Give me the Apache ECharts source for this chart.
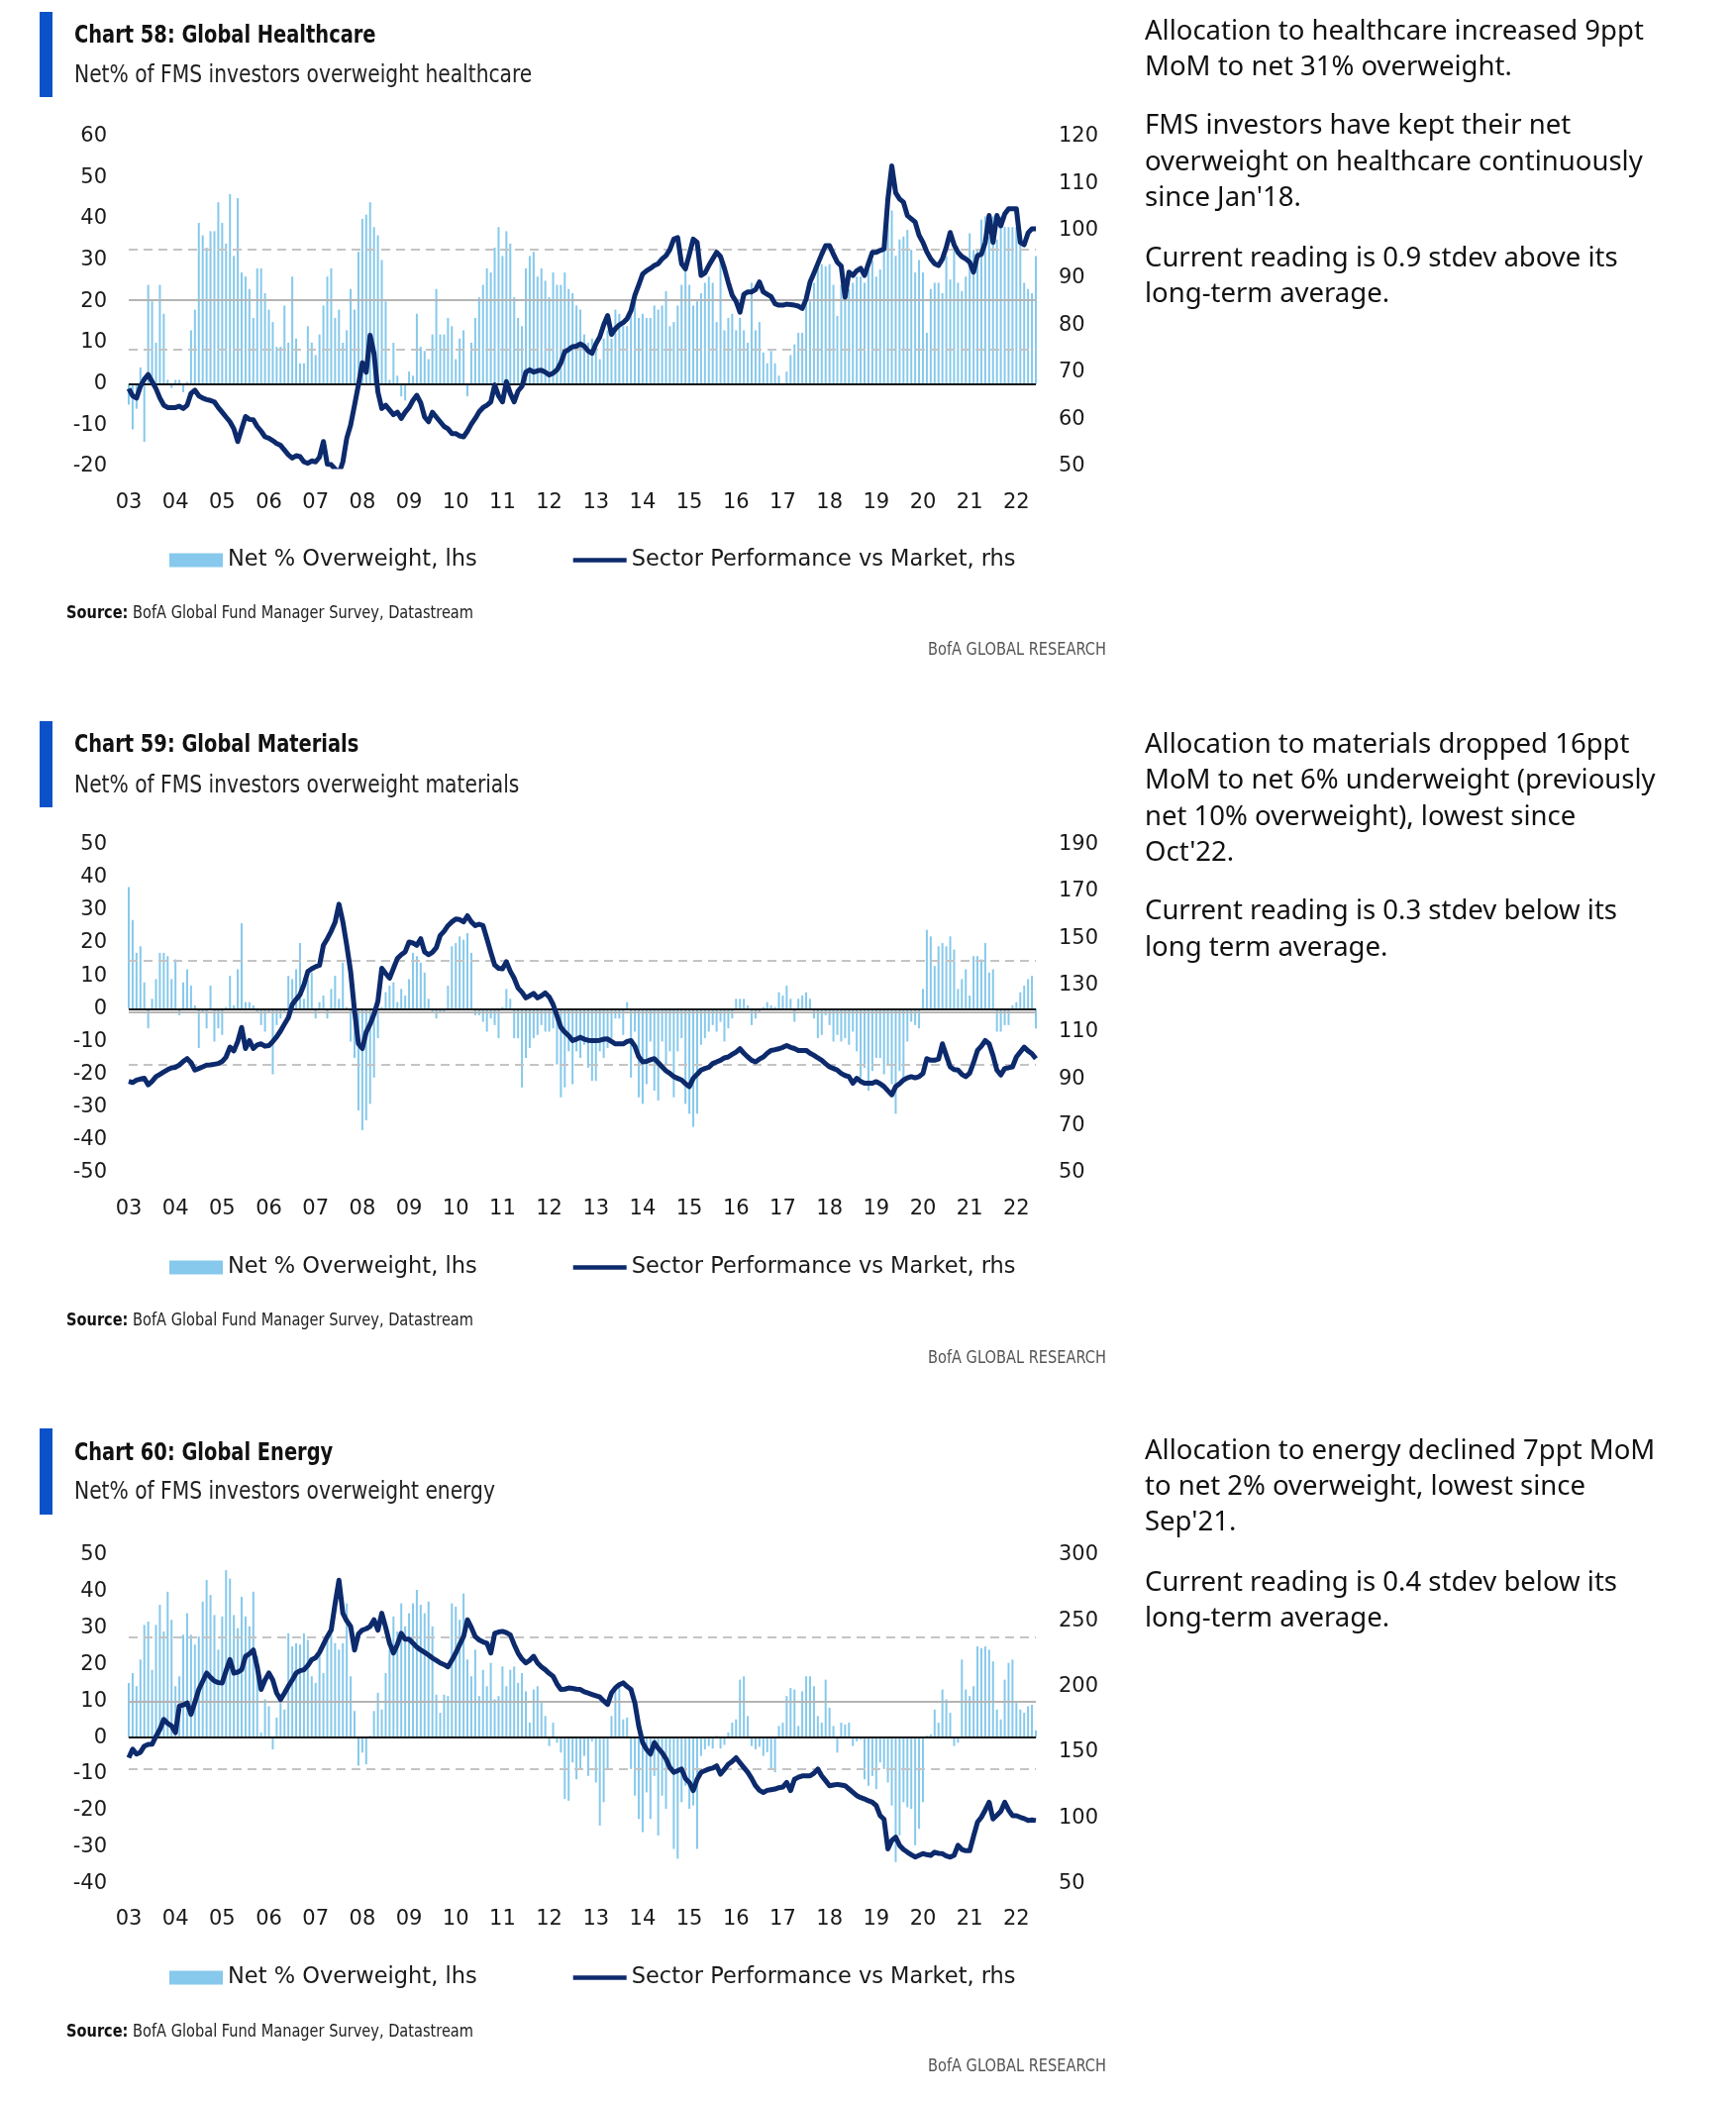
<!DOCTYPE html>
<html>
<head>
<meta charset="utf-8">
<script src="https://cdn.jsdelivr.net/npm/echarts/dist/echarts.min.js"></script>
<style>
  html, body { margin: 0; padding: 0; background: #fff; }
  #page { position: relative; width: 1753px; height: 2122px; background: #fff; overflow: hidden; }
  #chart { position: absolute; left: 0; top: 0; width: 1753px; height: 2122px; }
  .bar { position: absolute; left: 40px; width: 13px; background: #0b52c9; }
  .narrow { font-family: 'Liberation Sans Narrow', 'DejaVu Sans Condensed', 'Liberation Sans', sans-serif; transform: scaleX(0.9); transform-origin: 0 50%; }
  .title { position: absolute; left: 75px; font-size: 24px; line-height: 30px; font-weight: bold; color: #111; white-space: nowrap; }
  .sub { position: absolute; left: 75px; font-size: 25px; line-height: 30px; color: #222; white-space: nowrap; }
  .src { position: absolute; left: 67px; font-size: 18px; line-height: 22px; color: #222; white-space: nowrap; }
  .src b { color: #111; }
  .bofa { position: absolute; right: 636px; font-size: 18px; line-height: 22px; color: #555; white-space: nowrap; transform-origin: 100% 50%; }
  .prose { position: absolute; left: 1156px; font-family: 'Noto Sans', 'Open Sans', sans-serif; font-size: 27.5px; line-height: 36.4px; color: #111; white-space: nowrap; }
</style>
</head>
<body>
<div id="page">
  <div id="chart"></div>

  <div class="bar" style="top:12px;height:86px"></div>
  <div class="title narrow" style="top:20px">Chart 58: Global Healthcare</div>
  <div class="sub narrow" style="top:59.5px">Net% of FMS investors overweight healthcare</div>
  <div class="src narrow" style="top:607px"><b>Source:</b> BofA Global Fund Manager Survey, Datastream</div>
  <div class="bofa narrow" style="top:644px">BofA GLOBAL RESEARCH</div>
  <div class="prose" style="top:11.5px">Allocation to healthcare increased 9ppt<br>MoM to net 31% overweight.</div>
  <div class="prose" style="top:107.2px">FMS investors have kept their net<br>overweight on healthcare continuously<br>since Jan'18.</div>
  <div class="prose" style="top:240.7px">Current reading is 0.9 stdev above its<br>long-term average.</div>

  <div class="bar" style="top:728px;height:87px"></div>
  <div class="title narrow" style="top:736px">Chart 59: Global Materials</div>
  <div class="sub narrow" style="top:776.5px">Net% of FMS investors overweight materials</div>
  <div class="src narrow" style="top:1321px"><b>Source:</b> BofA Global Fund Manager Survey, Datastream</div>
  <div class="bofa narrow" style="top:1359px">BofA GLOBAL RESEARCH</div>
  <div class="prose" style="top:731.8px">Allocation to materials dropped 16ppt<br>MoM to net 6% underweight (previously<br>net 10% overweight), lowest since<br>Oct'22.</div>
  <div class="prose" style="top:900.4px">Current reading is 0.3 stdev below its<br>long term average.</div>

  <div class="bar" style="top:1442px;height:87px"></div>
  <div class="title narrow" style="top:1451px">Chart 60: Global Energy</div>
  <div class="sub narrow" style="top:1489.6px">Net% of FMS investors overweight energy</div>
  <div class="src narrow" style="top:2038.6px"><b>Source:</b> BofA Global Fund Manager Survey, Datastream</div>
  <div class="bofa narrow" style="top:2073.7px">BofA GLOBAL RESEARCH</div>
  <div class="prose" style="top:1444.5px">Allocation to energy declined 7ppt MoM<br>to net 2% overweight, lowest since<br>Sep'21.</div>
  <div class="prose" style="top:1578px">Current reading is 0.4 stdev below its<br>long-term average.</div>
</div>

<script>
// ---------------- DATA ----------------
const startYear = 2003;
const monthCount = 234; // Jan 2003 .. Jun 2022
const yearTickLabels = ['03','04','05','06','07','08','09','10','11','12','13','14','15','16','17','18','19','20','21','22'];
const seriesNames = ['Net % Overweight, lhs', 'Sector Performance vs Market, rhs'];

// Chart 58: Healthcare
const healthcareBars = [
  -5, -11, -6, 4, -14, 24, 20, 10, 24, 17, 1, -1,          // 2003
  1, 1, -2, 0.5, 13, 18, 39, 36, 33, 37, 37, 44,           // 2004
  39, 34, 46, 31, 45, 27, 26, 23, 16, 28, 28, 22,          // 2005
  18, 15, 9, 9, 19, 10, 26, 11, 5, 5, 14, 10,              // 2006
  7, 12, 19, 26, 28, 16, 18, 10, 13, 23, 18, 32,           // 2007
  40, 41, 44, 38, 36, 30, 20, 1, 10, 2, -3, -4,            // 2008
  3, 2, 17, 9, 8, 6, 12, 23, 12, 12, 16, 14,               // 2009
  6, 11, 13, -3, 10, 16, 21, 24, 28, 27, 33, 38,           // 2010
  31, 37, 34, 21, 16, 14, 28, 31, 32, 26, 28, 25,          // 2011
  21, 27, 24, 24, 27, 23, 22, 19, 18, 12, 10, 11,          // 2012
  10, 6, 11, 13, 11, 18, 17, 14, 14, 19, 20, 16,           // 2013
  17, 16, 16, 19, 18, 19, 22.5, 14, 15, 19, 24, 29,        // 2014
  24, 19, 20, 22, 24.5, 26, 24.5, 15, 30, 13, 16, 17,      // 2015
  13, 16, 13, 10, 24.5, 13, 15, 7.6, 5, 8, 5, 2,           // 2016
  -0.4, 3, 7, 9.6, 12.4, 12.4, 21, 20, 24.5, 28.5, 29, 28.5, // 2017
  29, 24, 16.5, 24, 20.5, 23, 24.5, 26, 26, 24.5, 27.7, 30,  // 2018
  26, 27.7, 35.5, 45, 42, 31, 35, 35.7, 37.3, 32.5, 27, 30,  // 2019
  27, 12.4, 23, 24.5, 24.5, 22, 31, 25.3, 32.5, 24.5, 22.5, 26, // 2020
  36.5, 32.5, 32.5, 39.8, 40.6, 35.7, 40.6, 35, 40.6, 38, 38, 38, // 2021
  38, 34, 24.5, 23, 22, 31                                  // 2022
];
const healthcareLine = [
  66.5, 65, 64.5, 67, 68.5, 69.5, 68, 66.5, 64.5, 63, 62.5, 62.5,
  62.5, 62.8, 62.3, 63, 65.5, 66.2, 65, 64.5, 64.2, 64, 63.7, 62.5,
  61.5, 60.5, 59.5, 58, 55.3, 58, 60.6, 60, 59.9, 58.5, 57.5, 56.3,
  56, 55.5, 54.9, 54.5, 53.5, 52.5, 51.8, 52.3, 52.1, 51, 50.7, 51.2,
  51, 52, 55.3, 50.5, 50.4, 49.5, 48.5, 51, 56, 58.8, 63, 67.3,
  72, 70, 77.8, 74, 65.8, 62.3, 63, 62, 61, 61.5, 60.2, 61.5,
  62.5, 64, 65.1, 63.5, 60.5, 59.5, 61.5, 60.5, 59.5, 58.5, 58, 57,
  57, 56.5, 56.3, 57.5, 59, 60.2, 61.6, 62.5, 63, 63.7, 67.3, 65,
  63.7, 68, 65.5, 63.7, 66, 67, 70, 70.5, 70, 70.3, 70.4, 70,
  69.4, 69.8, 70.5, 72, 74.3, 74.8, 75.4, 75.5, 76, 75.5, 74.5, 74,
  76, 77.5, 80, 82, 78, 79.2, 80, 80.5, 81.3, 83, 86.3, 88.5,
  90.8, 91.5, 92, 92.6, 93, 94, 94.7, 96, 98.2, 98.5, 93, 91.9,
  95, 98.2, 97.5, 90.5, 91, 92.6, 94, 95.4, 94.5, 92, 89, 86.3,
  85, 82.7, 86.5, 87, 87, 87.5, 89.1, 87, 86.5, 86, 84.5, 84.2,
  84.2, 84.4, 84.3, 84.2, 84, 83.5, 85.5, 89.1, 91, 93, 95, 96.8,
  96.8, 95, 93.3, 92.5, 85.9, 91.2, 90.5, 91.5, 92, 90.5, 93, 95.4,
  95.4, 95.8, 96.1, 106.7, 113.7, 108, 106.7, 106, 103.2, 102.5, 101.8, 99,
  97.5, 95.5, 94, 93, 92.6, 94, 96.5, 99.6, 97, 95.4, 94.5, 94,
  93.3, 91.2, 94.7, 95, 97.5, 103.2, 97.5, 103.2, 101, 103.5, 104.6, 104.6,
  104.6, 97.5, 97, 99.5, 100.4, 100.4
];
const healthcareRefLines = { mean: 20.4, upper: 32.6, lower: 8.3 };

// Chart 59: Materials
const materialsBars = [
  37, 27, 17, 19, 8, -6, 3, 9, 17, 17, 16, 9,
  15, -2, 8, 12, 7, 1, -12, -1, -6, 7, -10, -6,
  -8, 0.5, 10, 1, 12, 26, 2, 2, 1, -1, -5, -7,
  -1, -20, -5, -3, -1, 10, 9, 12, 20, 3, 9, 11,
  -3, 2, 4, -3, 6, 10, 3, 14, 0.5, -10, -15, -31,
  -37, -34, -29, -21, -9, 0.5, 5, 7, 8, 2, 6, 4,
  9, 17, 16, 14, 11, 3, -1, -3, -1, -1, 7, 19,
  20, 22, 21, 23, 17, -2, -2, -4, -7, -3, -5, -9,
  0.5, 6, 3, -9, -9, -24, -15, -12, -9, -8, -5, -7,
  -7, -6, -17, -27, -24, -13, -23, -13, -15, -11, -18, -22,
  -22, -13, -15, -12, -9, -3, -3, -8, 2, -21, -7, -27,
  -29, -23, -10, -25, -28, -10, -17, -13, -27, -13, -9, -29,
  -32, -36, -32, -11, -9, -7, -5, -7, -4, -10, -6, -3,
  3, 3, 3, 1, -5, -3, -1, 0.5, 2, 1, 0.5, 5,
  4, 7, 3, -4, 3, 4, 5, 3, -3, -9, -8, -2,
  -5, -10, -8, -10, -9, -11, -7, -13, -21, -18, -25, -19,
  -15, -15, -20, -17, -23, -32, -19, -21, -10, -4, -5, -6,
  6, 24, 22, 13, 19, 20, 19, 22, 18, 6, 9, 12,
  4, 16, 16, 15, 20, 11, 12, -7, -7, -5, -5, 1,
  2, 5, 7, 9, 10, -6
];
const materialsLine = [
  89, 88.5, 89.5, 90, 90.3, 87.5, 89, 91, 92, 93, 94, 94.8,
  95, 96, 97.5, 98.7, 97, 93.8, 94.5, 95.2, 95.9, 96, 96.3, 96.6,
  97.5, 99.4, 103.6, 102, 106, 112, 103, 106.4, 103, 104.5, 105, 104,
  104.3, 106, 108, 110.5, 113.4, 116.2, 121.8, 124, 126, 130.2, 135.8, 137,
  137.9, 138.5, 147, 149.8, 153, 156.8, 164.5, 157, 147, 135.8, 119, 105,
  103, 110, 113.4, 117.6, 123.2, 137.2, 135, 133, 137.2, 141.4, 143, 144.2,
  148.4, 148, 147, 149.8, 144.2, 143, 144, 146, 151.2, 153, 155.4, 157,
  158.2, 158, 157, 159.6, 157, 155.4, 156, 155.4, 149.8, 144, 138.6, 137.2,
  137, 140, 136, 133, 128.8, 127, 124.6, 125.5, 126.5, 124.6, 125.5, 126.7,
  125, 121.8, 117, 112, 110, 108.5, 106.4, 107, 107.8, 107, 106.5, 106.4,
  106.4, 106.5, 107, 107.1, 106, 105, 105, 105, 106, 106.4, 104, 99.5,
  97.3, 97.5, 98.2, 98.7, 97, 95.2, 93.5, 92.4, 91, 90.3, 89.6, 88,
  86.8, 90.3, 92, 93.8, 94.5, 95, 96.6, 97.3, 98, 99, 99.4, 100.5,
  101.5, 102.9, 101, 99.4, 98, 97.3, 98.5, 99.4, 101, 102.2, 102.5, 102.9,
  103.5, 104.3, 103.5, 103, 102.2, 102.2, 102.2, 101, 100.1, 99, 98, 96.5,
  95.2, 94.5, 93.8, 92.4, 91.5, 91, 88.2, 90.3, 89, 88.2, 88.2, 88.2,
  88.9, 88, 86.8, 85, 83.3, 86.8, 88, 89.6, 90.5, 91, 90.5, 91,
  92.4, 98.7, 98, 98, 98.5, 105, 100, 95.2, 94, 93.8, 92, 91,
  92.5, 97, 102.2, 104, 106.4, 105, 100, 93.8, 91.7, 94.5, 94.8, 95.2,
  99.4, 101.5, 103.6, 102, 100.8, 98.7
];
const materialsRefLines = { mean: -1, upper: 14.5, lower: -17 };

// Chart 60: Energy
const energyBars = [
  15, 17.7, 14.1, 21.4, 30.9, 31.8, 18.6, 30.9, 36.4, 29.1, 40, 32.3,
  14.1, 16.8, 28.2, 34.1, 28.2, 25.5, 27.7, 37.3, 43.2, 39.1, 33.6, 24.1,
  33.2, 45.9, 43.6, 33.6, 30, 38.6, 33.2, 30.5, 40, 22.3, 1.4, 10.5,
  8.6, -3.2, 5.5, 9.5, 7.7, 28.6, 25, 25.9, 25.5, 28.6, 26.8, 16.8,
  15, 24.1, 17.7, 27.7, 28.6, 25.9, 24.1, 25.9, 36.8, 16.8, 7.3, -7.7,
  -4.1, -7.3, 0.5, 7.3, 12.3, 7.7, 17.7, 24.1, 33.2, 29.1, 36.8, 30.5,
  34.1, 36.8, 40.5, 36.4, 34.1, 37.3, 30.5, 11.8, 6.8, 11.8, 11.4, 36.8,
  35.9, 32.3, 39.5, 21.4, 16.8, 24.1, 11.4, 18.6, 14.1, 20.5, 10.5, 11.4,
  19.5, 14.1, 18.6, 19.5, 15, 17.7, 12.7, 4.1, 13.2, 14.1, 9.5, 5.9,
  -2.3, 4.1, -1.4, -4.1, -16.8, -17.3, -6.8, -11.4, -8.6, -5, -10.5, -1,
  -12.3, -24.1, -17.7, -8.6, 5.9, 13.2, 15, 5, 5.5, -8.6, -15.9, -22.3,
  -25.9, -15, -22.3, -10.5, -26.8, -15.9, -19.5, -8.6, -30.5, -33.2, -17.7, -13.2,
  -19.5, -18.6, -30.5, -5, -3.2, -2.3, -3, 0.5, -3, -2, 1.4, 4.1,
  5, 15.9, 16.8, 5.9, -2.3, -3.2, -2.5, -5, -4, -8.6, -9.5, 3.2,
  4.1, 11.4, 13.6, 13.2, 3.2, 12.7, 16.8, 16.8, 14.1, 5.9, 4.1, 15.9,
  8.2, 3.2, -4.1, 4.1, 3.6, 4.1, -2.3, -1, -0.5, -11.4, -13.2, -10.5,
  -14.1, -6.8, -8.6, -12.3, -18.6, -34.1, -26.8, -17.7, -19.1, -19.5, -29.5, -25,
  -17.7, 0.5, 0.9, 7.7, 4.1, 13.2, 10.5, 6.8, -2.3, -1.4, 21.4, 13.2,
  11.4, 14.1, 25, 24.5, 25, 24.1, 20.9, 7.7, 5, 15.9, 20.5, 21.4,
  9.5, 7.7, 6.8, 8.6, 9, 2
];
const energyLine = [
  145.8, 152.3, 148.6, 150, 154.7, 156, 156.1, 162, 167.4, 175, 172, 170,
  165, 185, 186, 187.5, 178.9, 188, 197.8, 204, 210.3, 207, 204.2, 203,
  202.8, 212, 220.5, 210.3, 211, 212.8, 223, 225, 227.8, 215, 197.8, 205,
  210.3, 205, 195, 190.2, 195, 200.3, 205, 210.3, 212, 212.8, 216, 220.5,
  222, 226, 232, 238, 243, 263, 281, 255.8, 250, 245.8, 227.8, 240,
  243, 244, 245.8, 250.8, 243, 255.8, 245, 233, 225.5, 232, 240.5, 236,
  236, 233, 230, 227.8, 226, 224, 221.7, 220, 218, 216.7, 215, 220,
  225.5, 232, 238, 250.8, 245, 238, 235.5, 234, 233, 225.5, 240.5, 241.5,
  242, 241, 239.4, 232, 225.5, 221, 218, 220, 223, 218, 215, 212.8,
  210, 207.8, 202, 197.8, 198, 198.9, 198.5, 198, 197.8, 196, 195, 194,
  193, 192, 189, 186.4, 195.2, 199, 201.4, 202.8, 200, 197.8, 187.5, 170,
  157.3, 152.2, 148.6, 157.3, 153, 149.7, 145, 138.3, 134.7, 136, 137.2, 130,
  127, 120.8, 129.4, 134.7, 136, 137.2, 138, 139.7, 133.3, 137, 140.9, 143,
  145.8, 142, 138.3, 134.7, 130, 124.5, 121, 119.4, 121, 121.5, 122, 123,
  123.5, 127, 120.8, 129.4, 131, 132, 132, 132, 134, 137.2, 132, 128.3,
  124.5, 125, 125.5, 125, 124.5, 122, 119.5, 117, 115.5, 114.4, 113, 111.9,
  109.4, 101.7, 99, 76.4, 82.8, 85.3, 79.1, 76, 73.9, 72, 70.2, 71.5,
  72.8, 72, 71.5, 73.9, 73, 72.8, 71, 70.2, 71.5, 79.1, 76, 75,
  75, 86, 96.7, 100.5, 106, 111.9, 99.2, 102, 105, 111.9, 106, 101.7,
  101.7, 100.5, 99.5, 98, 98.5, 98
];
const energyRefLines = { mean: 10, upper: 27.5, lower: -8.7 };

// Axis ranges
const axisRanges = [
  { lmin: -20, lmax: 60, lint: 10, rmin: 50, rmax: 120, rint: 10 },
  { lmin: -50, lmax: 50, lint: 10, rmin: 50, rmax: 190, rint: 20 },
  { lmin: -40, lmax: 50, lint: 10, rmin: 50, rmax: 300, rint: 50 }
];

// ---------------- BUILD ----------------
const months = [];
for (let i = 0; i < monthCount; i++) {
  const y = startYear + Math.floor(i / 12);
  const m = (i % 12) + 1;
  months.push(y + '-' + String(m).padStart(2, '0'));
}

const layouts = [
  { top: 137.5, bottom: 471, legend: 556 },
  { top: 852.5, bottom: 1184, legend: 1270 },
  { top: 1570, bottom: 1901.5, legend: 1987 }
];
const charts = [
  { bars: healthcareBars, line: healthcareLine, ref: healthcareRefLines },
  { bars: materialsBars, line: materialsLine, ref: materialsRefLines },
  { bars: energyBars, line: energyLine, ref: energyRefLines }
];

const barColor = '#86c9ec';
const lineColor = '#0c2a6c';
const axisFont = { fontFamily: 'DejaVu Sans', fontSize: 21, color: '#1a1a1a' };

const option = {
  animation: false,
  backgroundColor: 'transparent',
  grid: [], xAxis: [], yAxis: [], series: [], legend: []
};

charts.forEach((c, i) => {
  const L = layouts[i], R = axisRanges[i];
  option.grid.push({ left: 130, width: 916, top: L.top, height: L.bottom - L.top });
  option.xAxis.push({
    type: 'category', gridIndex: i, data: months, boundaryGap: false,
    axisLine: { show: false }, axisTick: { show: false }, splitLine: { show: false },
    axisLabel: Object.assign({
      margin: 26,
      interval: (idx) => idx % 12 === 0,
      formatter: (v) => yearTickLabels[parseInt(v.slice(0, 4), 10) - startYear]
    }, axisFont)
  });
  option.yAxis.push({
    type: 'value', gridIndex: i, position: 'left', min: R.lmin, max: R.lmax, interval: R.lint,
    axisLine: { show: false }, axisTick: { show: false }, splitLine: { show: false },
    axisLabel: Object.assign({ margin: 22 }, axisFont)
  });
  option.yAxis.push({
    type: 'value', gridIndex: i, position: 'right', min: R.rmin, max: R.rmax, interval: R.rint,
    axisLine: { show: false }, axisTick: { show: false }, splitLine: { show: false },
    axisLabel: Object.assign({ margin: 23 }, axisFont)
  });
  option.series.push({
    name: seriesNames[0], type: 'bar', xAxisIndex: i, yAxisIndex: 2 * i,
    data: c.bars, barWidth: 2, itemStyle: { color: barColor }, z: 2,
    markLine: {
      silent: true, symbol: 'none', label: { show: false }, animation: false,
      data: [
        { yAxis: c.ref.upper, lineStyle: { color: '#c4c4c4', width: 2, type: [9, 6] } },
        { yAxis: c.ref.lower, lineStyle: { color: '#c4c4c4', width: 2, type: [9, 6] } },
        { yAxis: c.ref.mean, lineStyle: { color: '#b4b4b4', width: 2, type: 'solid' } },
        { yAxis: 0, lineStyle: { color: '#111', width: 2, type: 'solid' } }
      ]
    }
  });
  option.series.push({
    name: seriesNames[1], type: 'line', xAxisIndex: i, yAxisIndex: 2 * i + 1,
    data: c.line, symbol: 'none', z: 5,
    lineStyle: { color: lineColor, width: 5, join: 'round' }, itemStyle: { color: lineColor }
  });
  option.legend.push({
    left: 166, top: L.legend - 7, itemWidth: 54, itemHeight: 14, itemGap: 97,
    selectedMode: false,
    textStyle: { fontFamily: 'DejaVu Sans', fontSize: 22.5, color: '#1a1a1a' },
    data: [
      { name: seriesNames[0], icon: 'rect', itemStyle: { color: barColor } },
      { name: seriesNames[1], icon: 'path://M0 0H58V5H0Z', itemStyle: { color: lineColor } }
    ]
  });
});

const chart = echarts.init(document.getElementById('chart'), null, { renderer: 'canvas' });
chart.setOption(option);
</script>
</body>
</html>
